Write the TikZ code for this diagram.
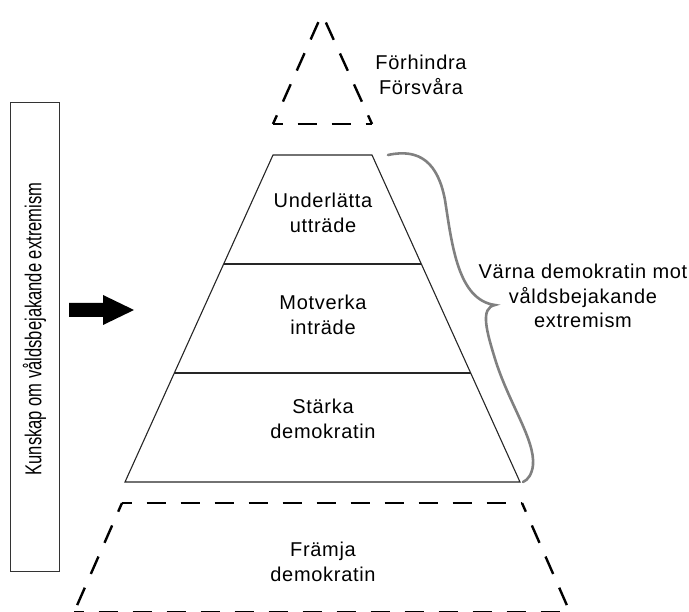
\documentclass[tikz,border=0pt]{standalone}
\usepackage{fontspec}
\setmainfont{Liberation Sans}[LetterSpace=3.5]
\newfontfamily\sidefont{Liberation Sans}[FakeStretch=0.72]
\usetikzlibrary{calc}
\tikzset{
  layer/.style={draw=black!85, line width=1.1pt},
  dashedge/.style={draw=black, line width=2.4pt, dash pattern=on 19pt off 15pt, dash phase=9.5pt},
  lbl/.style={align=center, text=black, font=\fontsize{20}{24.5}\selectfont, inner sep=0pt},
  bracestyle/.style={draw=black!50, line width=2.6pt, line cap=round},
}
\begin{document}
\begin{tikzpicture}[x=1pt, y=-1pt]
\useasboundingbox (0,0) rectangle (689,612);
% top dashed triangle
\coordinate (ta) at (322,14);
\coordinate (tl) at (273,124);
\coordinate (tr) at (372,124);
\draw[dashedge] (tl) -- (ta);
\draw[dashedge] (tr) -- (ta);
\draw[dashedge] (tl) -- (tr);
\node[lbl] (prev) at (421,75) {Förhindra\\Försvåra};
% pyramid
\coordinate (p1) at (273,155);
\coordinate (p2) at (372,155);
\coordinate (p3) at (520,482);
\coordinate (p4) at (125,482);
\draw[layer] (p1) -- (p2) -- (p3) -- (p4) -- cycle;
\draw[layer] ($(p1)!0.3333!(p4)$) -- ($(p2)!0.3333!(p3)$);
\draw[layer] ($(p1)!0.6667!(p4)$) -- ($(p2)!0.6667!(p3)$);
\node[lbl] (ut) at (323,213) {Underlätta\\utträde};
\node[lbl] (in) at (323,315) {Motverka\\inträde};
\node[lbl] (st) at (323,419) {Stärka\\demokratin};
% bottom dashed trapezoid
\coordinate (b1) at (122,503);
\coordinate (b2) at (522,503);
\coordinate (b3) at (570,612.3);
\coordinate (b4) at (74,612.3);
\draw[dashedge] (b1) -- (b2);
\draw[dashedge] (b1) -- (b4);
\draw[dashedge] (b2) -- (b3);
\draw[dashedge] (b4) -- (b3);
\node[lbl] (fr) at (323,562) {Främja\\demokratin};
% brace
\coordinate (bt) at (388,155);
\coordinate (btip) at (495,305);
\coordinate (bb) at (523,482);
\draw[bracestyle] (bt) .. controls (420,148) and (438,163) .. (445,200)
  .. controls (452,245) and (458,300) .. (btip)
  .. controls (480,308) and (486,330) .. (496,362)
  .. controls (510,405) and (535,440) .. (533,465)
  .. controls (532,474) and (528,480) .. (bb);
\node[lbl] (va) at (583,296) {Värna demokratin mot\\våldsbejakande\\extremism};
% knowledge box
\node[draw=black!80, line width=1pt, minimum width=49pt, minimum height=469pt, inner sep=0pt] (kb) at (34.5,337.5) {};
\node[rotate=90, inner sep=0pt, text=black, font=\sidefont\fontsize{23}{26}\selectfont] (kt) at (34.5,329) {Kunskap om våldsbejakande extremism};
% arrow
\fill[black] (69,303) -- (103,303) -- (103,295) -- (134,310) -- (103,325) -- (103,317) -- (69,317) -- cycle;
\end{tikzpicture}
\end{document}
